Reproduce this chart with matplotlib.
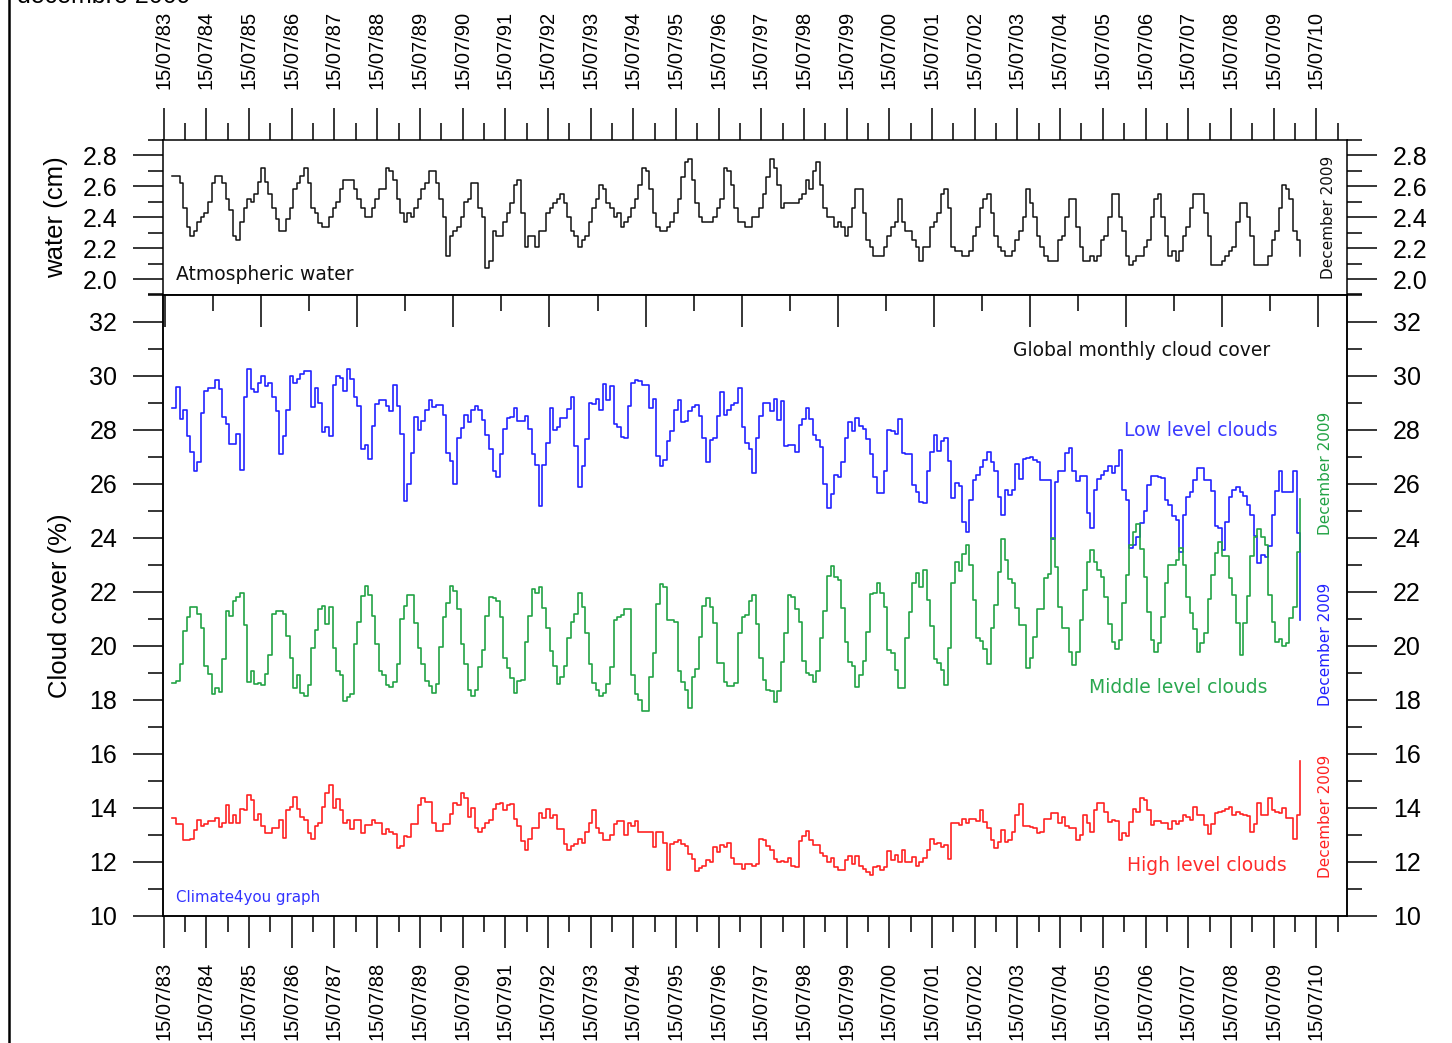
import numpy as np
import matplotlib
matplotlib.use("Agg")
import matplotlib.pyplot as plt
from matplotlib.ticker import MultipleLocator, FixedLocator, FormatStrFormatter
from matplotlib.lines import Line2D

plt.rcParams['font.family'] = ['Liberation Sans', 'DejaVu Sans']

# ---------------- data (monthly, July 1983 - December 2009) ----------------
water = [
 2.67, 2.67, 2.62, 2.46, 2.34, 2.28, 2.31, 2.37, 2.40, 2.43, 2.50, 2.62,
 2.67, 2.67, 2.62, 2.52, 2.45, 2.28, 2.25, 2.37, 2.46, 2.52, 2.50, 2.55,
 2.63, 2.72, 2.63, 2.55, 2.46, 2.39, 2.31, 2.31, 2.39, 2.46, 2.58, 2.62,
 2.67, 2.72, 2.62, 2.46, 2.43, 2.36, 2.34, 2.34, 2.40, 2.46, 2.50, 2.58,
 2.64, 2.64, 2.64, 2.58, 2.52, 2.46, 2.40, 2.40, 2.46, 2.52, 2.58, 2.58,
 2.72, 2.70, 2.64, 2.52, 2.43, 2.37, 2.43, 2.40, 2.46, 2.52, 2.58, 2.62,
 2.70, 2.70, 2.62, 2.52, 2.40, 2.15, 2.28, 2.31, 2.34, 2.40, 2.50, 2.52,
 2.62, 2.62, 2.46, 2.40, 2.07, 2.12, 2.31, 2.28, 2.28, 2.37, 2.43, 2.49,
 2.61, 2.64, 2.43, 2.21, 2.28, 2.28, 2.21, 2.31, 2.31, 2.43, 2.46, 2.49,
 2.52, 2.55, 2.49, 2.40, 2.31, 2.28, 2.21, 2.25, 2.28, 2.37, 2.46, 2.52,
 2.61, 2.58, 2.49, 2.46, 2.40, 2.43, 2.34, 2.37, 2.40, 2.46, 2.52, 2.61,
 2.72, 2.70, 2.58, 2.43, 2.34, 2.31, 2.31, 2.34, 2.37, 2.43, 2.52, 2.66,
 2.76, 2.78, 2.64, 2.49, 2.40, 2.37, 2.37, 2.37, 2.40, 2.46, 2.52, 2.72,
 2.70, 2.61, 2.46, 2.37, 2.37, 2.34, 2.34, 2.40, 2.40, 2.46, 2.55, 2.66,
 2.78, 2.72, 2.61, 2.46, 2.49, 2.49, 2.49, 2.49, 2.52, 2.55, 2.64, 2.58,
 2.70, 2.76, 2.61, 2.46, 2.40, 2.40, 2.34, 2.37, 2.34, 2.28, 2.34, 2.46,
 2.58, 2.58, 2.43, 2.25, 2.21, 2.15, 2.15, 2.15, 2.21, 2.28, 2.34, 2.37,
 2.52, 2.37, 2.31, 2.31, 2.25, 2.21, 2.12, 2.21, 2.21, 2.34, 2.37, 2.43,
 2.55, 2.58, 2.46, 2.21, 2.18, 2.18, 2.15, 2.15, 2.18, 2.28, 2.34, 2.46,
 2.52, 2.55, 2.43, 2.28, 2.21, 2.18, 2.15, 2.15, 2.18, 2.25, 2.31, 2.40,
 2.58, 2.49, 2.40, 2.28, 2.21, 2.15, 2.12, 2.12, 2.12, 2.25, 2.28, 2.40,
 2.52, 2.52, 2.34, 2.21, 2.12, 2.12, 2.15, 2.12, 2.15, 2.25, 2.28, 2.40,
 2.55, 2.55, 2.40, 2.31, 2.15, 2.09, 2.12, 2.15, 2.15, 2.21, 2.25, 2.40,
 2.52, 2.55, 2.40, 2.28, 2.15, 2.18, 2.12, 2.18, 2.28, 2.34, 2.46, 2.55,
 2.55, 2.55, 2.43, 2.28, 2.09, 2.09, 2.09, 2.12, 2.15, 2.18, 2.21, 2.37,
 2.49, 2.49, 2.40, 2.28, 2.09, 2.09, 2.09, 2.09, 2.15, 2.25, 2.31, 2.46,
 2.61, 2.58, 2.52, 2.31, 2.25, 2.15]

low_clouds = [
 28.80, 29.56, 28.39, 28.74, 27.75, 27.16, 26.45, 26.80, 28.60, 29.44, 29.54, 29.54,
 29.85, 29.50, 28.45, 28.20, 27.46, 27.46, 27.85, 26.50, 29.20, 30.25, 29.50, 29.38,
 29.72, 30.00, 29.60, 29.72, 29.20, 28.68, 27.10, 27.75, 28.74, 30.00, 29.72, 29.88,
 30.06, 30.16, 30.16, 28.84, 29.54, 28.98, 27.90, 28.10, 27.75, 29.63, 29.98, 29.90,
 29.44, 30.25, 29.88, 29.20, 28.86, 27.28, 27.44, 26.90, 28.14, 28.96, 29.08, 29.08,
 28.86, 28.68, 29.63, 28.86, 27.84, 25.34, 25.99, 27.13, 28.45, 27.97, 28.33, 28.74,
 29.10, 28.82, 28.92, 28.92, 28.52, 27.13, 26.82, 25.99, 27.68, 28.07, 28.52, 28.27,
 28.71, 28.86, 28.74, 28.34, 27.81, 27.28, 26.45, 26.23, 27.09, 28.03, 28.41, 28.46,
 28.80, 28.33, 28.33, 28.50, 28.03, 27.09, 26.68, 25.17, 26.68, 27.50, 28.80, 27.99,
 28.10, 28.44, 28.44, 28.77, 29.20, 27.40, 25.88, 26.66, 27.65, 28.99, 28.95, 29.14,
 28.74, 29.69, 29.11, 29.61, 28.22, 28.10, 27.71, 27.69, 28.86, 29.72, 29.83, 29.79,
 29.63, 29.63, 28.80, 29.13, 27.03, 26.64, 26.86, 27.57, 27.93, 28.74, 29.08, 28.27,
 28.33, 28.68, 28.83, 28.90, 28.51, 27.69, 26.80, 27.62, 27.69, 28.51, 29.39, 28.55,
 28.74, 28.90, 28.99, 29.54, 28.10, 27.50, 27.29, 26.38, 27.69, 28.51, 28.99, 28.99,
 28.70, 29.14, 28.37, 29.04, 27.38, 27.44, 27.44, 27.16, 28.16, 28.40, 28.80, 28.40,
 27.79, 27.60, 27.34, 25.98, 25.09, 25.62, 26.33, 26.23, 26.80, 27.69, 28.28, 27.93,
 28.43, 28.14, 28.03, 27.66, 27.09, 26.24, 25.65, 25.65, 26.45, 27.97, 27.93, 27.85,
 28.40, 27.13, 27.09, 27.09, 25.96, 25.69, 25.30, 25.27, 26.45, 27.17, 27.79, 27.22,
 27.57, 27.69, 26.82, 25.46, 26.02, 25.89, 24.57, 24.19, 25.40, 26.14, 26.33, 26.60,
 26.88, 27.15, 26.78, 26.45, 25.50, 24.82, 25.77, 25.58, 25.75, 26.72, 26.17, 26.91,
 26.94, 26.97, 26.88, 26.78, 26.12, 26.12, 26.12, 23.95, 26.05, 26.45, 26.45, 27.13,
 27.32, 26.45, 26.10, 26.29, 26.29, 24.90, 24.35, 25.77, 26.17, 26.30, 26.45, 26.66,
 26.39, 26.63, 27.23, 25.75, 25.40, 23.60, 23.73, 24.01, 24.53, 25.00, 25.95, 26.26,
 26.26, 26.23, 26.20, 25.40, 25.21, 24.78, 24.66, 23.48, 24.84, 25.50, 25.67, 26.12,
 26.57, 26.57, 26.12, 26.12, 25.71, 24.41, 24.35, 23.54, 24.59, 25.50, 25.77, 25.86,
 25.67, 25.55, 25.21, 24.84, 24.04, 23.07, 23.36, 23.27, 23.69, 24.84, 25.71, 26.45,
 25.67, 25.67, 25.67, 26.45, 24.16, 20.95]

middle_clouds = [
 18.60, 18.70, 19.30, 20.54, 21.07, 21.42, 21.42, 21.17, 20.66, 19.25, 18.94, 18.19,
 18.41, 18.29, 19.49, 21.29, 21.11, 21.65, 21.81, 21.96, 20.76, 18.65, 19.07, 18.56,
 18.60, 18.53, 18.94, 19.65, 21.17, 21.29, 21.29, 21.17, 20.35, 19.55, 18.41, 18.89,
 18.25, 18.13, 18.53, 19.90, 20.58, 21.36, 21.47, 20.80, 21.42, 19.90, 19.07, 18.89,
 17.94, 18.08, 18.19, 20.06, 20.88, 21.84, 22.22, 21.87, 21.10, 20.06, 19.07, 18.89,
 18.53, 18.47, 18.66, 19.30, 20.98, 21.47, 21.87, 21.87, 20.85, 19.90, 19.30, 18.70,
 18.51, 18.23, 18.56, 19.93, 21.05, 21.59, 22.22, 22.02, 21.34, 20.06, 19.30, 18.35,
 18.13, 18.35, 19.21, 19.83, 21.11, 21.81, 21.75, 21.65, 21.05, 19.55, 19.15, 18.78,
 18.25, 18.68, 18.72, 20.12, 21.11, 22.08, 21.96, 22.18, 21.40, 20.66, 19.80, 19.24,
 18.56, 18.84, 19.25, 20.27, 20.88, 21.17, 21.96, 21.44, 20.48, 19.30, 18.60, 18.35,
 18.14, 18.23, 18.56, 19.21, 20.95, 21.07, 21.13, 21.34, 21.34, 18.91, 18.20, 18.00,
 17.58, 17.58, 18.84, 19.71, 21.53, 22.28, 22.18, 20.95, 20.95, 20.88, 19.07, 18.66,
 18.35, 17.69, 18.84, 19.13, 20.30, 21.47, 21.75, 21.44, 20.82, 19.34, 19.34, 18.63,
 18.50, 18.51, 18.60, 20.45, 21.07, 21.13, 21.66, 21.87, 20.80, 19.52, 18.72, 18.35,
 18.32, 17.89, 18.32, 19.38, 20.48, 21.87, 21.81, 21.34, 20.86, 19.44, 18.99, 18.91,
 18.66, 19.07, 20.29, 21.28, 22.58, 22.93, 22.52, 22.43, 21.38, 20.12, 19.40, 19.24,
 18.47, 18.91, 19.44, 20.51, 21.90, 21.94, 22.31, 21.96, 21.42, 19.83, 19.71, 19.09,
 18.41, 18.41, 20.27, 21.25, 22.31, 22.68, 22.16, 22.80, 21.69, 20.74, 19.49, 19.34,
 19.09, 18.53, 19.89, 22.33, 23.11, 22.76, 23.40, 23.73, 22.99, 21.69, 20.27, 20.18,
 19.86, 19.30, 20.64, 21.50, 22.74, 23.94, 23.17, 22.46, 22.33, 21.38, 20.76, 20.76,
 19.15, 19.52, 20.30, 21.34, 21.34, 22.49, 22.65, 23.98, 22.90, 21.44, 20.64, 20.64,
 19.77, 19.28, 19.77, 20.95, 22.06, 23.11, 23.52, 23.11, 22.80, 22.53, 21.81, 20.80,
 20.14, 19.86, 20.20, 21.56, 22.62, 23.73, 24.22, 24.51, 23.57, 22.53, 21.23, 20.20,
 19.77, 20.10, 21.07, 22.31, 22.99, 22.99, 23.17, 23.61, 22.99, 21.81, 21.19, 20.61,
 19.77, 20.10, 20.48, 21.71, 22.62, 23.42, 23.82, 23.30, 23.30, 22.49, 21.87, 20.82,
 19.65, 20.82, 21.84, 23.32, 24.01, 24.32, 24.01, 23.73, 21.87, 20.88, 20.14, 20.23,
 19.98, 20.08, 21.01, 21.44, 23.45, 25.42]

high_clouds = [
 13.61, 13.38, 13.38, 12.78, 12.78, 12.84, 13.15, 13.55, 13.30, 13.38, 13.49, 13.50,
 13.61, 13.28, 13.44, 14.11, 13.44, 13.74, 13.44, 13.96, 13.92, 14.45, 14.27, 13.55,
 13.77, 13.30, 13.07, 13.07, 13.25, 13.25, 13.55, 12.87, 13.90, 14.02, 14.39, 13.96,
 13.65, 13.55, 13.07, 12.82, 13.30, 13.44, 14.02, 14.55, 14.85, 13.99, 14.30, 13.90,
 13.44, 13.55, 13.19, 13.55, 13.53, 13.07, 13.34, 13.34, 13.55, 13.44, 13.44, 13.03,
 13.19, 13.09, 13.03, 12.50, 12.56, 12.93, 12.91, 13.40, 13.40, 14.08, 14.37, 14.20,
 14.20, 13.44, 13.13, 13.13, 13.40, 13.40, 13.77, 14.18, 14.11, 14.54, 14.37, 13.65,
 13.99, 13.25, 13.09, 13.25, 13.44, 13.55, 13.93, 14.14, 14.18, 13.90, 14.08, 14.14,
 13.59, 13.30, 12.75, 12.44, 12.84, 13.25, 13.25, 13.80, 13.61, 13.96, 13.61, 13.74,
 13.19, 13.19, 12.63, 12.44, 12.56, 12.63, 12.84, 12.68, 13.09, 13.44, 13.90, 13.25,
 13.07, 12.78, 12.78, 12.99, 13.38, 13.49, 13.49, 13.00, 13.44, 13.30, 13.49, 13.09,
 13.09, 13.09, 13.09, 12.53, 13.09, 13.09, 12.68, 11.67, 12.63, 12.72, 12.78, 12.63,
 12.56, 12.26, 12.08, 11.63, 11.77, 11.85, 12.04, 11.98, 12.53, 12.35, 12.60, 12.54,
 12.68, 12.14, 11.92, 11.92, 11.73, 11.92, 11.92, 11.85, 11.92, 12.84, 12.78, 12.56,
 12.44, 12.10, 11.98, 12.01, 11.98, 12.14, 11.85, 11.79, 12.76, 12.93, 13.13, 12.81,
 12.60, 12.60, 12.31, 12.19, 11.98, 12.14, 11.79, 11.69, 11.69, 12.04, 12.19, 11.92,
 12.19, 11.85, 11.73, 11.61, 11.51, 11.79, 11.85, 11.70, 11.79, 12.39, 12.06, 12.25,
 11.98, 12.44, 11.98, 11.98, 12.16, 11.85, 11.98, 12.14, 12.44, 12.84, 12.63, 12.68,
 12.54, 12.60, 12.10, 13.42, 13.42, 13.34, 13.59, 13.42, 13.59, 13.59, 13.49, 13.90,
 13.46, 13.24, 12.81, 12.51, 12.72, 13.15, 12.72, 12.78, 13.09, 13.71, 14.14, 13.30,
 13.30, 13.28, 13.24, 13.05, 13.09, 13.59, 13.59, 13.80, 13.80, 13.42, 13.65, 13.30,
 13.25, 13.25, 12.78, 13.00, 13.71, 13.42, 13.09, 13.90, 14.18, 14.18, 13.83, 13.46,
 13.52, 13.50, 12.81, 13.05, 12.93, 13.46, 13.96, 13.83, 14.35, 14.29, 13.90, 13.34,
 13.50, 13.50, 13.42, 13.42, 13.22, 13.50, 13.40, 13.50, 13.71, 13.65, 13.52, 14.02,
 13.71, 13.71, 13.34, 13.03, 13.40, 13.80, 13.83, 13.87, 13.96, 14.02, 13.71, 13.83,
 13.77, 13.71, 13.67, 13.09, 13.38, 14.18, 13.73, 13.73, 14.35, 13.90, 13.83, 13.80,
 14.00, 13.62, 13.62, 12.84, 13.73, 15.73]

tick_years = list(range(1983, 2011))
tick_labels = ["15/07/%02d" % (y % 100) for y in tick_years]

# ---------------- geometry helpers ----------------
W_PX, H_PX = 1452, 1043
def fx(px):
    return px / W_PX
def fy(py):
    return 1 - py / H_PX

T0 = 1983 + 6.5 / 12.0                       # 15 July 1983
x = T0 + 0.204 + np.arange(len(water)) / 12.0
xmin, xmax = T0 - 0.01, T0 + 27.72
major_x = [T0 + k for k in range(len(tick_years))]
minor_x = [T0 + k + 0.5 for k in range(len(tick_years))]

BLUE = '#2222ff'
GREEN = '#22a345'
RED = '#ff2222'
BLACK = '#111111'

fig = plt.figure(figsize=(W_PX / 100, H_PX / 100), dpi=100)
left, width = fx(163.3), (1347 - 163.3) / W_PX
ax1 = fig.add_axes([left, fy(294.5), width, (294.5 - 140) / H_PX])
ax2 = fig.add_axes([left, fy(915.5), width, (915.5 - 294.5) / H_PX])

SP_LW = 1.1
for ax in (ax1, ax2):
    for s in ax.spines.values():
        s.set_linewidth(SP_LW)
    ax.set_xlim(xmin, xmax)

# ---------------- top panel: atmospheric water ----------------
ax1.step(x, water, where='post', color=BLACK, lw=1.1)
ax1.set_ylim(1.9, 2.9)
ax1.yaxis.set_major_locator(MultipleLocator(0.2))
ax1.yaxis.set_minor_locator(MultipleLocator(0.1))
ax1.yaxis.set_major_formatter(FormatStrFormatter('%.1f'))
ax1.xaxis.tick_top()
ax1.xaxis.set_major_locator(FixedLocator(major_x))
ax1.xaxis.set_minor_locator(FixedLocator(minor_x))
ax1.set_xticklabels(tick_labels)
ax1.tick_params(axis='x', which='major', direction='out', length=23, width=SP_LW,
                top=True, bottom=False, labeltop=True, labelbottom=False,
                labelrotation=90, labelsize=14.5, pad=14)
ax1.tick_params(axis='x', which='minor', direction='out', length=12, width=SP_LW,
                top=True, bottom=False)
ax1.tick_params(axis='y', which='major', direction='out', length=21.6, width=SP_LW,
                left=True, right=True, labelleft=True, labelright=True,
                labelsize=18, pad=11.5)
ax1.tick_params(axis='y', which='minor', direction='out', length=10.8, width=SP_LW,
                left=True, right=True)

# ---------------- lower panel: cloud cover ----------------
ax2.step(x, low_clouds, where='post', color=BLUE, lw=1.2)
ax2.step(x, middle_clouds, where='post', color=GREEN, lw=1.2)
ax2.step(x, high_clouds, where='post', color=RED, lw=1.2)
ax2.set_ylim(10, 33)
ax2.yaxis.set_major_locator(MultipleLocator(2))
ax2.yaxis.set_minor_locator(MultipleLocator(1))
ax2.yaxis.set_major_formatter(FormatStrFormatter('%d'))

ax2t = ax2.twiny()
ax2t.set_xlim(xmin, xmax)
top_major = [T0 + 2.281 + 2.2518 * k for k in range(-1, 12)]
top_minor = [v + 1.1259 for v in top_major]
ax2t.xaxis.set_major_locator(FixedLocator(top_major))
ax2t.xaxis.set_minor_locator(FixedLocator(top_minor))
ax2t.tick_params(axis='x', which='major', direction='in', length=23, width=SP_LW,
                 top=True, bottom=False, labeltop=False, labelbottom=False)
ax2t.tick_params(axis='x', which='minor', direction='in', length=11.5, width=SP_LW,
                 top=True, bottom=False)
for s in ax2t.spines.values():
    s.set_linewidth(SP_LW)

ax2.xaxis.tick_bottom()
ax2.xaxis.set_major_locator(FixedLocator(major_x))
ax2.xaxis.set_minor_locator(FixedLocator(minor_x))
ax2.set_xticklabels(tick_labels)
ax2.tick_params(axis='x', which='major', direction='out', length=23, width=SP_LW,
                bottom=True, top=False, labelbottom=True, labeltop=False,
                labelrotation=90, labelsize=14.5, pad=10.6)
ax2.tick_params(axis='x', which='minor', direction='out', length=11.5, width=SP_LW,
                bottom=True, top=False)
ax2.tick_params(axis='y', which='major', direction='out', length=21.6, width=SP_LW,
                left=True, right=True, labelleft=True, labelright=True,
                labelsize=18, pad=11.5)
ax2.tick_params(axis='y', which='minor', direction='out', length=10.8, width=SP_LW,
                left=True, right=True)

# ---------------- texts ----------------
fig.text(fx(56), fy(217), 'water (cm)', rotation=90, ha='center', va='center', fontsize=18.5)
fig.text(fx(60), fy(606), 'Cloud cover (%)', rotation=90, ha='center', va='center', fontsize=18.5)

ann = dict(family='DejaVu Sans', fontsize=13.5, va='baseline', ha='left')
fig.text(fx(176), fy(279.5), 'Atmospheric water', color=BLACK, **ann)
fig.text(fx(1013), fy(356), 'Global monthly cloud cover', color=BLACK, **ann)
fig.text(fx(1124), fy(436), 'Low level clouds', color='#3b3bff', **ann)
fig.text(fx(1089), fy(693), 'Middle level clouds', color='#2aa850', **ann)
fig.text(fx(1127), fy(871), 'High level clouds', color='#ff2b2b', **ann)
fig.text(fx(176), fy(902), 'Climate4you graph', color='#3333ff', family='DejaVu Sans',
         fontsize=10.8, va='baseline', ha='left')

dec = dict(family='DejaVu Sans', fontsize=11, rotation=90, ha='center', va='center')
fig.text(fx(1328.3), fy(217.5), 'December 2009', color=BLACK, **dec)
fig.text(fx(1325.5), fy(473), 'December 2009', color=GREEN, **dec)
fig.text(fx(1326), fy(644), 'December 2009', color=BLUE, **dec)
fig.text(fx(1326), fy(816), 'December 2009', color=RED, **dec)

fig.text(fx(17), fy(3), 'décembre 2009', fontsize=18, va='baseline', ha='left')
fig.add_artist(Line2D([fx(8.7), fx(8.7)], [0, 1], transform=fig.transFigure,
                      color='black', lw=1.8))

fig.savefig('out.png', dpi=100)
